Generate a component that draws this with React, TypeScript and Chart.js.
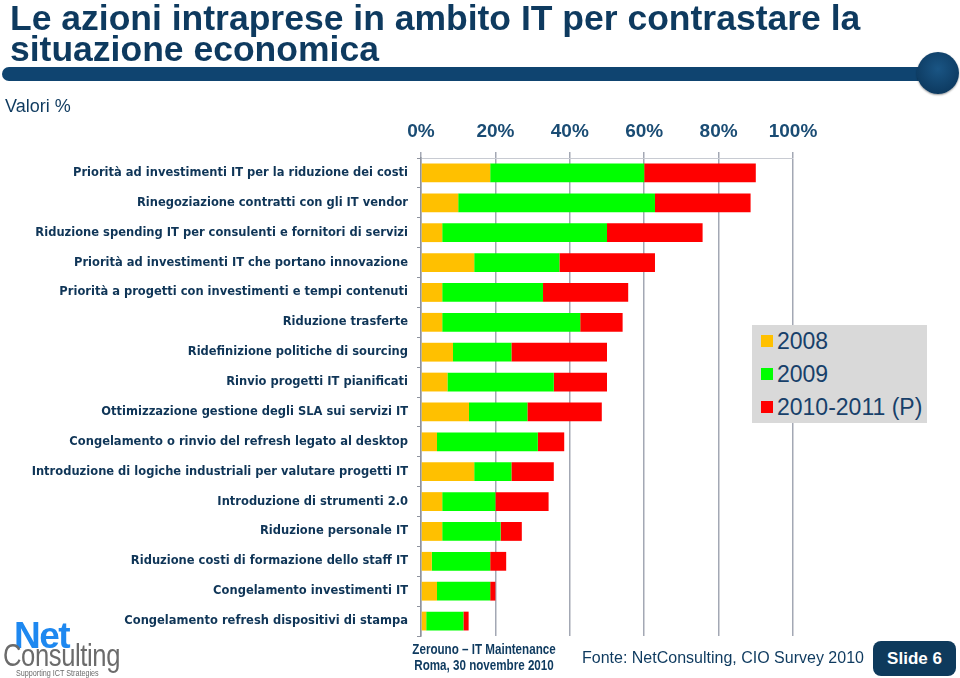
import React, { useEffect, useRef } from "react";
import { Chart, registerables } from "chart.js";

Chart.register(...registerables);

const categories = [
  "Priorità ad investimenti IT per la riduzione dei costi",
  "Rinegoziazione contratti con gli IT vendor",
  "Riduzione spending IT per consulenti e fornitori di servizi",
  "Priorità ad investimenti IT che portano innovazione",
  "Priorità a progetti con investimenti e tempi contenuti",
  "Riduzione trasferte",
  "Ridefinizione politiche di sourcing",
  "Rinvio progetti IT pianificati",
  "Ottimizzazione gestione degli SLA sui servizi IT",
  "Congelamento o rinvio del refresh legato al desktop",
  "Introduzione di logiche industriali per valutare progetti IT",
  "Introduzione di strumenti 2.0",
  "Riduzione personale IT",
  "Riduzione costi di formazione dello staff IT",
  "Congelamento investimenti IT",
  "Congelamento refresh dispositivi di stampa",
];

const series2008 = [18.6, 10.0, 5.7, 14.3, 5.7, 5.7, 8.6, 7.1, 12.9, 4.3, 14.3, 5.7, 5.7, 2.9, 4.3, 1.4];
const series2009 = [41.4, 52.9, 44.3, 22.9, 27.1, 37.1, 15.7, 28.6, 15.7, 27.1, 10.0, 14.3, 15.7, 15.7, 14.3, 10.0];
const series2010 = [30.0, 25.7, 25.7, 25.7, 22.9, 11.4, 25.7, 14.3, 20.0, 7.1, 11.4, 14.3, 5.7, 4.3, 1.4, 1.4];

const seriesNames = ["2008", "2009", "2010-2011 (P)"];
const seriesColors = ["#FFC000", "#00FF00", "#FF0000"];
const xTicks = [0, 20, 40, 60, 80, 100];

const NAVY = "#0E3A5F";
const sans = "'Liberation Sans', Arial, sans-serif";

export default function App() {
  const ref = useRef<HTMLCanvasElement | null>(null);

  useEffect(() => {
    if (!ref.current) return;
    const chart = new Chart(ref.current, {
      type: "bar",
      data: {
        labels: categories,
        datasets: [series2008, series2009, series2010].map((d, i) => ({
          label: seriesNames[i],
          data: d,
          backgroundColor: seriesColors[i],
          borderWidth: 0,
          barPercentage: 0.63,
          categoryPercentage: 1,
        })),
      },
      options: {
        indexAxis: "y",
        animation: false,
        responsive: false,
        maintainAspectRatio: false,
        layout: { padding: { top: 0, left: 0, right: 167, bottom: 42 } },
        plugins: { legend: { display: false }, tooltip: { enabled: false } },
        scales: {
          x: {
            position: "top",
            stacked: true,
            min: 0,
            max: 100,
            afterBuildTicks: (s: any) => {
              s.ticks = xTicks.map((v) => ({ value: v }));
            },
            afterFit: (s: any) => {
              s.height = 158;
            },
            ticks: {
              callback: (v: any) => v + "%",
              color: "#1A4C74",
              font: { family: sans, size: 19, weight: "bold" },
              padding: 9,
              maxRotation: 0,
            },
            grid: { color: "#A3A8B4", lineWidth: 1.5, tickLength: 6 },
            border: { color: "#C8CBD2", width: 1 },
          },
          y: {
            stacked: true,
            afterFit: (s: any) => {
              s.width = 421;
            },
            ticks: {
              color: "#0F3557",
              font: { family: "'DejaVu Sans', Verdana, sans-serif", size: 11.5, weight: "bold" },
              padding: 9,
              autoSkip: false,
            },
            grid: { drawOnChartArea: false, color: "#8E939E", tickLength: 4, offset: true },
            border: { color: "#8E939E", width: 1.5 },
          },
        },
      },
    });
    return () => chart.destroy();
  }, []);

  return (
    <div style={{ position: "fixed", left: 0, top: 0, width: 960, height: 678, background: "#fff", overflow: "hidden", fontFamily: sans }}>
      <canvas ref={ref} width={960} height={678} style={{ position: "absolute", left: 0, top: 0, width: 960, height: 678 }} />
      <div style={{ position: "absolute", left: 10, top: 3, fontWeight: "bold", fontSize: 35.5, lineHeight: "31px", color: NAVY, whiteSpace: "nowrap" }}>
        Le azioni intraprese in ambito IT per contrastare la
        <br />
        situazione economica
      </div>
      <div style={{ position: "absolute", left: 2, top: 67, width: 930, height: 14, background: "#0F4470", borderRadius: "7px 0 0 7px" }} />
      <div style={{ position: "absolute", left: 917, top: 52, width: 42, height: 42, borderRadius: "50%", background: "radial-gradient(circle at 50% 40%, #1A5584 0%, #0E3C63 70%, #0A2F4E 100%)", boxShadow: "0 1px 2px rgba(0,0,0,0.4)" }} />
      <div style={{ position: "absolute", left: 5, top: 96, fontSize: 18, color: NAVY }}>Valori %</div>

      <div style={{ position: "absolute", left: 752, top: 325, width: 175, height: 98, background: "#D9D9D9" }}>
        {seriesNames.map((n, i) => (
          <div key={n} style={{ position: "absolute", left: 9, top: 4 + i * 33, height: 24, display: "flex", alignItems: "center", whiteSpace: "nowrap" }}>
            <span style={{ display: "inline-block", width: 12, height: 12, background: seriesColors[i], marginRight: 4 }} />
            <span style={{ fontSize: 23, color: "#17406A" }}>{n}</span>
          </div>
        ))}
      </div>

      <div style={{ position: "absolute", left: 0, top: 618, width: 140, height: 60 }}>
        <div style={{ position: "absolute", left: 14, top: 0, fontSize: 37, fontWeight: "bold", color: "#1E88F0", lineHeight: "36px", letterSpacing: -1.5 }}>Net</div>
        <div style={{ position: "absolute", left: 3, top: 20, fontSize: 32, color: "#6B6B6B", lineHeight: "34px", letterSpacing: -0.5, transform: "scaleX(0.8)", transformOrigin: "left top", whiteSpace: "nowrap" }}>Consulting</div>
        <div style={{ position: "absolute", left: 16, top: 50, fontSize: 9, color: "#6B6B6B", whiteSpace: "nowrap", transform: "scaleX(0.8)", transformOrigin: "left top" }}>Supporting ICT Strategies</div>
      </div>

      <div style={{ position: "absolute", left: 384, top: 641, width: 200, textAlign: "center", fontWeight: "bold", fontSize: 14, lineHeight: "16px", color: NAVY, transform: "scaleX(0.83)", transformOrigin: "center top", whiteSpace: "nowrap" }}>
        Zerouno – IT Maintenance
        <br />
        Roma, 30 novembre 2010
      </div>
      <div style={{ position: "absolute", left: 582, top: 649, fontSize: 16, color: NAVY, whiteSpace: "nowrap" }}>Fonte: NetConsulting, CIO Survey 2010</div>
      <div style={{ position: "absolute", left: 873, top: 641, width: 83, height: 35, borderRadius: 8, background: "#0E3A5C", color: "#fff", display: "flex", alignItems: "center", justifyContent: "center", fontWeight: "bold", fontSize: 17 }}>Slide 6</div>
    </div>
  );
}
